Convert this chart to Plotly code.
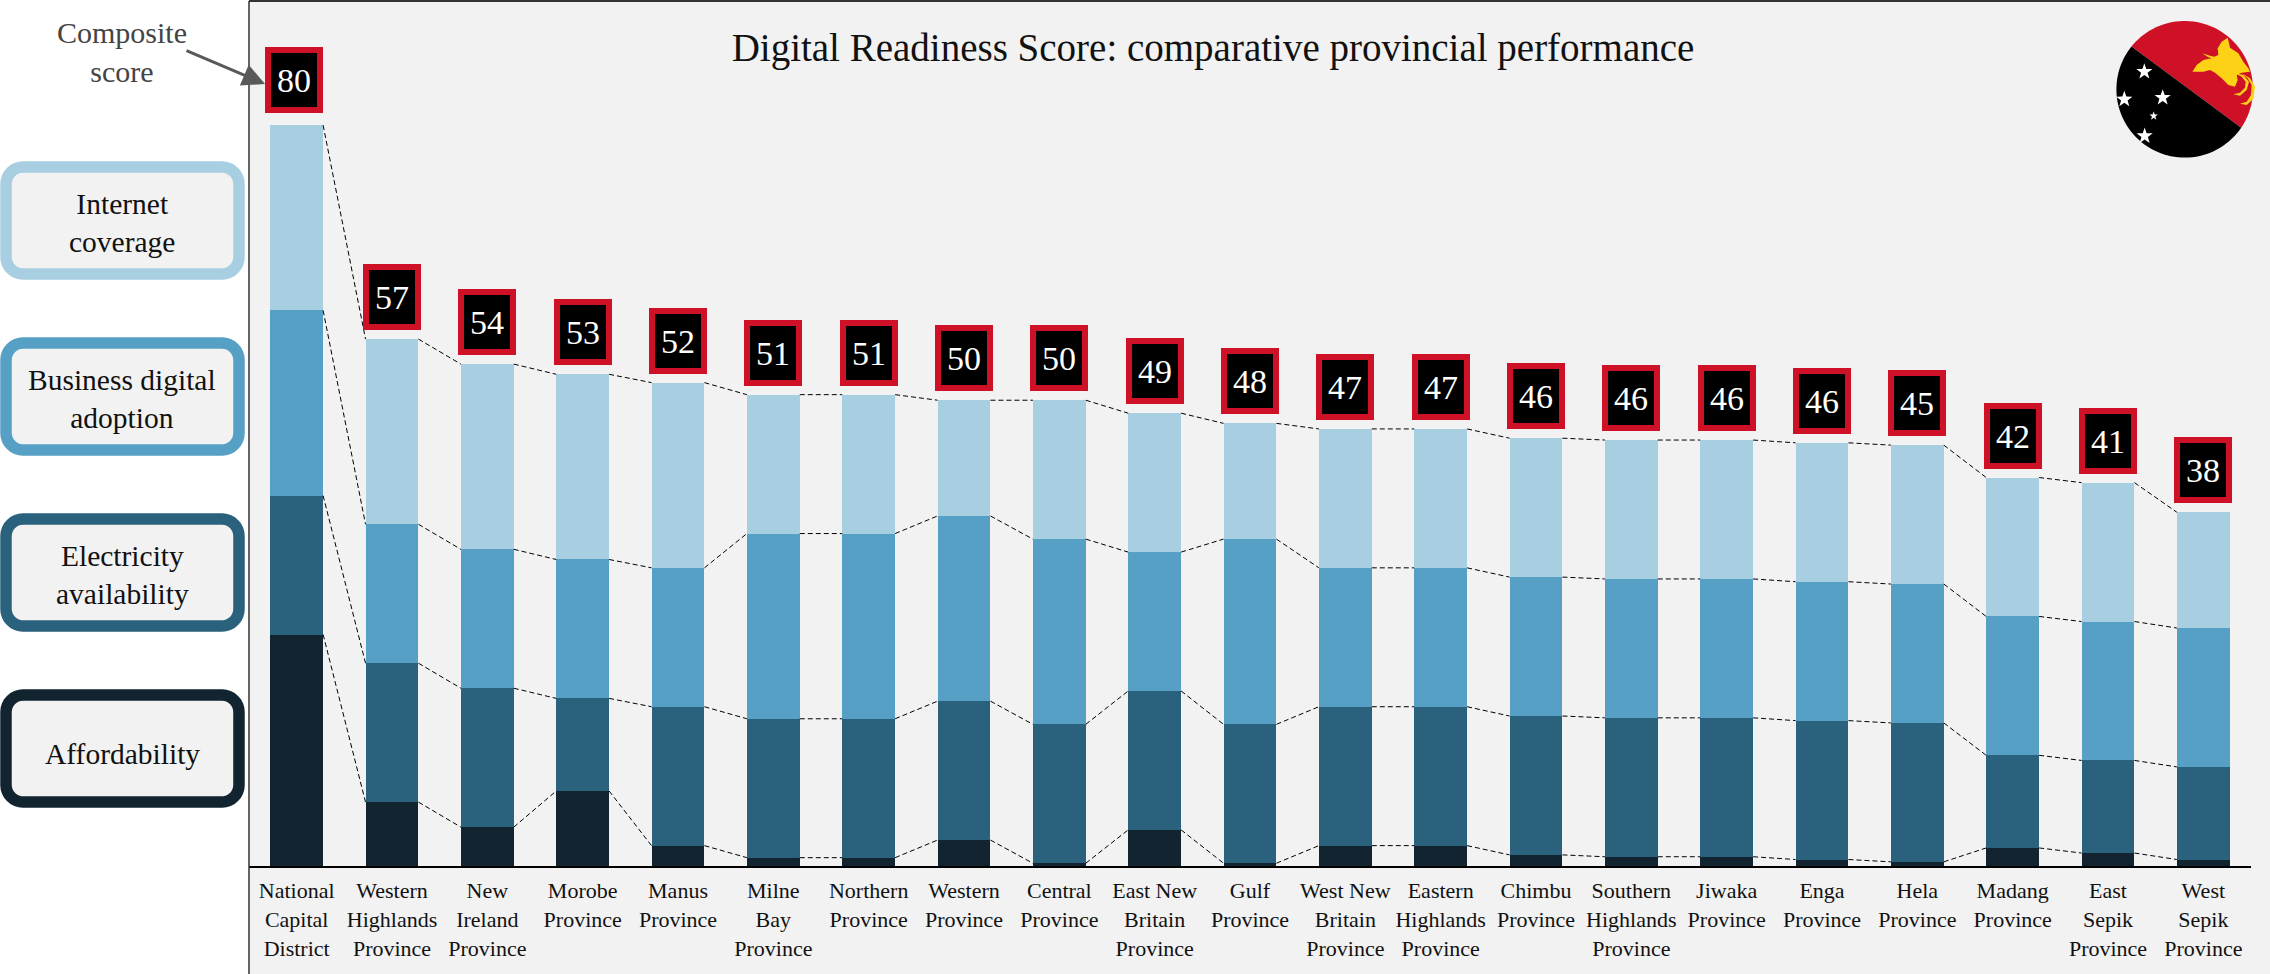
import math
import plotly.graph_objects as go

categories = ["National<br>Capital<br>District", "Western<br>Highlands<br>Province", "New<br>Ireland<br>Province",
              "Morobe<br>Province", "Manus<br>Province", "Milne<br>Bay<br>Province", "Northern<br>Province",
              "Western<br>Province", "Central<br>Province", "East New<br>Britain<br>Province", "Gulf<br>Province",
              "West New<br>Britain<br>Province", "Eastern<br>Highlands<br>Province", "Chimbu<br>Province",
              "Southern<br>Highlands<br>Province", "Jiwaka<br>Province", "Enga<br>Province", "Hela<br>Province",
              "Madang<br>Province", "East<br>Sepik<br>Province", "West<br>Sepik<br>Province"]
composite = [80, 57, 54, 53, 52, 51, 51, 50, 50, 49, 48, 47, 47, 46, 46, 46, 46, 45, 42, 41, 38]
affordability = [25, 6.9, 4.2, 8.1, 2.2, 0.9, 0.9, 2.8, 0.3, 3.9, 0.3, 2.2, 2.2, 1.2, 1.0, 1.0, 0.7, 0.45, 1.95, 1.4, 0.7]
electricity = [15, 15, 15, 10, 15, 15, 15, 15, 15, 15, 15, 15, 15, 15, 15, 15, 15, 15, 10, 10, 10]
business = [20, 15, 15, 15, 15, 20, 20, 20, 20, 15, 20, 15, 15, 15, 15, 15, 15, 15, 15, 15, 15]
internet = [20, 20, 20, 20, 20, 15, 15, 12.5, 15, 15, 12.5, 15, 15, 15, 15, 15, 15, 15, 15, 15, 12.5]
series_names = ["Affordability", "Electricity availability", "Business digital adoption", "Internet coverage"]
legend_labels = ["Internet<br>coverage", "Business digital<br>adoption", "Electricity<br>availability", "Affordability"]
title_text = "Digital Readiness Score: comparative provincial performance"

COLORS = ["#122430", "#2A617C", "#56A0C6", "#A8CEE2"]
PANEL = "#F2F2F2"
RED = "#CE1126"
GOLD = "#FCD116"
FONT = "Liberation Serif"
W, H = 2270, 974
L, R, T, B = 249, 2251, 2, 866
BAR_W = 0.555


def px(x):
    return (x - L) / (R - L)


def py(y):
    return (B - y) / (B - T)


def poly(points):
    return "M" + " L".join(f"{px(x):.5f},{py(y):.5f}" for x, y in points) + " Z"


def rrect(x0, y0, x1, y1, r):
    pts = []
    for cx, cy, a0 in [(x1 - r, y0 + r, -90), (x1 - r, y1 - r, 0), (x0 + r, y1 - r, 90), (x0 + r, y0 + r, 180)]:
        for k in range(9):
            a = math.radians(a0 + k * 90 / 8)
            pts.append((cx + r * math.cos(a), cy + r * math.sin(a)))
    return poly(pts)


def star(cx, cy, r):
    pts = []
    for k in range(10):
        a = math.radians(-90 + k * 36)
        q = r if k % 2 == 0 else r * 0.4
        pts.append((cx + q * math.cos(a), cy + q * math.sin(a)))
    return poly(pts)


fig = go.Figure()
xs = list(range(len(categories)))
layers = [affordability, electricity, business, internet]
for name, vals, col in zip(series_names, layers, COLORS):
    fig.add_trace(go.Bar(x=xs, y=vals, name=name, width=BAR_W, marker=dict(color=col, line=dict(width=0)),
                         showlegend=False))

cum = [0] * len(xs)
for vals in layers:
    cum = [c + v for c, v in zip(cum, vals)]
    cx, cy = [], []
    for i in xs[:-1]:
        cx += [i + BAR_W / 2, i + 1 - BAR_W / 2, None]
        cy += [cum[i], cum[i + 1], None]
    fig.add_trace(go.Scatter(x=cx, y=cy, mode="lines", line=dict(color="#000000", width=1, dash="5px,3px"),
                             showlegend=False, hoverinfo="skip"))

annotations = []
for i, (top, val) in enumerate(zip(cum, composite)):
    annotations.append(dict(x=i, y=top, xref="x", yref="y", text=str(val), showarrow=False, yanchor="bottom",
                            xshift=-3 if i == 0 else 0, yshift=12 if i == 0 else 9,
                            width=46, height=54, bgcolor="#000000", bordercolor=RED, borderwidth=6,
                            borderpad=0, font=dict(family=FONT, size=34, color="#FFFFFF")))

shapes = [
    dict(type="rect", xref="paper", yref="paper", x0=px(249), x1=px(2270), y0=py(974), y1=py(1),
         fillcolor=PANEL, line_width=0, layer="below"),
    dict(type="line", xref="paper", yref="paper", x0=px(249), x1=px(2270), y0=py(1), y1=py(1),
         line=dict(color="#333333", width=2)),
    dict(type="line", xref="paper", yref="paper", x0=px(249), x1=px(249), y0=py(1), y1=py(974),
         line=dict(color="#333333", width=1.5)),
]

# legend boxes
for k, (label, col) in enumerate(zip(legend_labels, COLORS[::-1])):
    top = 161 + 176 * k
    shapes.append(dict(type="path", xref="paper", yref="paper", path=rrect(6, top + 6, 239, top + 113, 17),
                       fillcolor=PANEL, line=dict(color=col, width=11.5)))
    annotations.append(dict(x=px(122), y=py(top + (65 if "<br>" not in label else 62)), xref="paper", yref="paper",
                            text=label, showarrow=False, xanchor="center", yanchor="middle",
                            font=dict(family=FONT, size=29.5, color="#111111")))

# composite callout
annotations.append(dict(x=px(122), y=py(52), xref="paper", yref="paper", text="Composite<br>score", showarrow=False,
                        xanchor="center", yanchor="middle", font=dict(family=FONT, size=30, color="#444444")))
annotations.append(dict(x=px(265), y=py(84), xref="paper", yref="paper", ax=185 - 265, ay=50 - 84, axref="pixel",
                        ayref="pixel", text="", showarrow=True, arrowhead=2, arrowsize=1.5, arrowwidth=3,
                        arrowcolor="#595959"))

# flag
FX, FY, FR = 2184.7, 89.3, 68.3
a1 = math.atan2(46.7 - FY, 2131.7 - FX)
a2 = math.atan2(127.3 - FY, 2240.7 - FX)
red_pts, black_pts = [], []
a_end = a2 if a2 > a1 else a2 + 2 * math.pi
for k in range(61):
    a = a1 + (a_end - a1) * k / 60
    red_pts.append((FX + FR * math.cos(a), FY + FR * math.sin(a)))
a_end2 = a1 + 2 * math.pi
for k in range(61):
    a = a2 + (a_end2 - a2) * k / 60
    black_pts.append((FX + FR * math.cos(a), FY + FR * math.sin(a)))
shapes.append(dict(type="path", xref="paper", yref="paper", path=poly(red_pts), fillcolor=RED, line_width=0))
shapes.append(dict(type="path", xref="paper", yref="paper", path=poly(black_pts), fillcolor="#000000", line_width=0))
for zx, zy, r in [(283, 215, 8.5), (223, 298, 8.5), (338, 293, 8.5), (311, 348, 4.5), (284, 408, 8.5)]:
    shapes.append(dict(type="path", xref="paper", yref="paper", path=star(2050 + zx / 3, zy / 3, r),
                       fillcolor="#FFFFFF", line_width=0))


def z5(points):
    return [(2175 + a / 3, 25 + b / 3) for a, b in points]


bird = [(82, 85), (105, 92), (118, 95), (130, 90), (128, 70), (140, 50), (158, 38), (162, 55), (165, 68), (190, 85),
        (205, 110), (220, 130), (225, 140), (200, 143), (185, 150), (188, 165), (180, 185), (160, 180), (140, 160),
        (120, 143), (105, 135), (85, 140), (52, 140), (65, 120), (85, 105), (110, 100), (100, 97)]
tail1 = [(180, 145), (205, 150), (222, 170), (215, 195), (195, 212), (175, 208), (195, 203), (210, 188), (212, 170),
         (200, 155)]
tail2 = [(200, 145), (225, 160), (240, 185), (235, 222), (215, 240), (195, 236), (215, 230), (228, 210), (230, 180),
         (218, 160)]
for pts in (bird, tail1, tail2):
    shapes.append(dict(type="path", xref="paper", yref="paper", path=poly(z5(pts)), fillcolor=GOLD, line_width=0))

fig.update_layout(
    width=W, height=H, barmode="stack", bargap=0,
    paper_bgcolor="#FFFFFF", plot_bgcolor=PANEL,
    margin=dict(l=L, r=W - R, t=T, b=H - B, autoexpand=False),
    title=dict(text=title_text, x=1213 / W, xanchor="center", y=1 - 47 / H, yanchor="middle", xref="container",
               yref="container", font=dict(family=FONT, size=39, color="#111111")),
    xaxis=dict(range=[-0.5, len(xs) - 0.5], tickmode="array", tickvals=xs, ticktext=categories, tickangle=0,
               showgrid=False, zeroline=False, showline=True, linecolor="#000000", linewidth=2,
               ticks="outside", ticklen=4, tickcolor="rgba(0,0,0,0)",
               tickfont=dict(family=FONT, size=22, color="#111111"), automargin=False),
    yaxis=dict(range=[0, (B - T) / 9.26], showgrid=False, zeroline=False, showticklabels=False, showline=False,
               ticks="", automargin=False),
    annotations=annotations, shapes=shapes, showlegend=False,
)
fig.write_html("out.html", config={"displayModeBar": False},
               post_script="document.body.style.margin='0';document.body.style.overflow='hidden';")
